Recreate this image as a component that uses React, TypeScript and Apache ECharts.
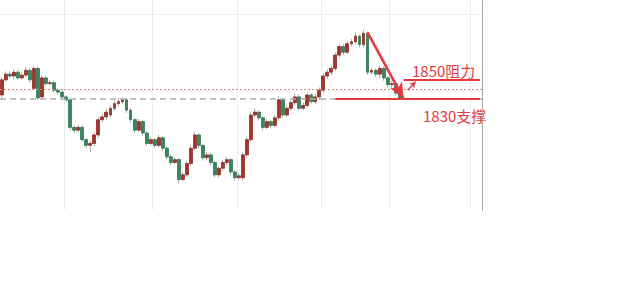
import React, { useEffect, useRef } from "react";
import * as echarts from "echarts";

const openPrices = [
  1834, 1850, 1856, 1854, 1858, 1852, 1855, 1860, 1841, 1862,
  1832, 1852, 1846, 1847, 1839, 1837, 1832, 1829, 1800, 1797,
  1800, 1787, 1781, 1783, 1792, 1808, 1811, 1813, 1820, 1825,
  1827, 1829, 1818, 1808, 1797, 1806, 1794, 1783, 1787, 1781,
  1789, 1778, 1769, 1763, 1766, 1745, 1750, 1762, 1778, 1792,
  1781, 1768, 1771, 1763, 1750, 1757, 1763, 1766, 1753, 1747,
  1747, 1771, 1787, 1813, 1816, 1810, 1800, 1806, 1802, 1810,
  1829, 1813, 1820, 1826, 1832, 1820, 1823, 1834, 1827, 1832,
  1839, 1854, 1858, 1862, 1876, 1885, 1879, 1888, 1890, 1896,
  1887, 1899, 1858, 1860, 1856, 1862, 1852, 1845, 1846, 1836,
];
const closePrices = [
  1850, 1856, 1854, 1858, 1852, 1855, 1860, 1850, 1862, 1831,
  1852, 1846, 1847, 1839, 1837, 1832, 1829, 1800, 1797, 1800,
  1787, 1781, 1783, 1792, 1808, 1811, 1816, 1820, 1825, 1827,
  1829, 1818, 1808, 1797, 1806, 1794, 1783, 1787, 1781, 1789,
  1778, 1769, 1763, 1766, 1745, 1750, 1762, 1778, 1792, 1781,
  1768, 1771, 1763, 1750, 1757, 1763, 1766, 1753, 1747, 1749,
  1771, 1787, 1813, 1816, 1810, 1800, 1806, 1802, 1810, 1829,
  1813, 1820, 1826, 1832, 1820, 1823, 1834, 1827, 1832, 1839,
  1854, 1858, 1862, 1876, 1885, 1879, 1888, 1890, 1896, 1887,
  1899, 1858, 1860, 1856, 1862, 1852, 1845, 1846, 1836, 1831,
];
const lowPrices = [
  1831, 1848, 1852, 1851, 1850, 1850, 1853, 1847, 1839, 1829,
  1830, 1843, 1844, 1837, 1834, 1830, 1827, 1797, 1794, 1795,
  1785, 1778, 1774, 1780, 1789, 1805, 1808, 1811, 1817, 1822,
  1825, 1815, 1805, 1794, 1795, 1791, 1780, 1781, 1778, 1779,
  1775, 1766, 1760, 1761, 1741, 1743, 1748, 1759, 1775, 1778,
  1765, 1765, 1760, 1747, 1747, 1754, 1760, 1750, 1744, 1745,
  1744, 1768, 1784, 1810, 1807, 1797, 1798, 1799, 1800, 1807,
  1810, 1811, 1817, 1823, 1818, 1818, 1820, 1825, 1824, 1829,
  1836, 1851, 1855, 1859, 1873, 1876, 1877, 1885, 1887, 1884,
  1884, 1855, 1856, 1853, 1851, 1849, 1842, 1842, 1833, 1829,
];
const highPrices = [
  1853, 1859, 1859, 1861, 1860, 1858, 1863, 1862, 1865, 1864,
  1855, 1854, 1850, 1849, 1841, 1840, 1834, 1831, 1802, 1803,
  1802, 1789, 1786, 1795, 1811, 1814, 1819, 1823, 1828, 1831,
  1832, 1831, 1820, 1810, 1809, 1808, 1796, 1790, 1789, 1792,
  1791, 1780, 1771, 1769, 1768, 1753, 1765, 1781, 1795, 1794,
  1783, 1774, 1773, 1765, 1759, 1766, 1769, 1768, 1755, 1752,
  1774, 1790, 1816, 1820, 1818, 1812, 1809, 1808, 1813, 1833,
  1831, 1823, 1829, 1836, 1835, 1826, 1837, 1836, 1835, 1842,
  1857, 1861, 1865, 1879, 1888, 1888, 1891, 1893, 1900, 1898,
  1903, 1901, 1863, 1862, 1865, 1864, 1854, 1849, 1848, 1838,
];

const slotCount = 120;
const categories = Array.from({ length: slotCount }, (_, i) => String(i));
const gridBreaks = [16, 38, 59, 80, 97, 117];

const supportLevel = 1830;
const resistanceLevel = 1850;
const middleLevel = 1840;
const topGridLevel = 1919;

const RED = "#e23a3f";

export default function App() {
  const ref = useRef<HTMLDivElement>(null);
  useEffect(() => {
    if (!ref.current) return;
    const chart = echarts.init(ref.current, undefined, { renderer: "svg" });
    const wickData = openPrices.map((o, i) => [o, closePrices[i], lowPrices[i], highPrices[i]]);
    const bodyData = openPrices.map((o, i) => [
      o,
      closePrices[i],
      Math.min(o, closePrices[i]),
      Math.max(o, closePrices[i]),
    ]);
    chart.setOption({
      animation: false,
      grid: { left: 0, right: 158, top: 0, height: 210 },
      xAxis: {
        type: "category",
        data: categories,
        boundaryGap: true,
        axisLine: { show: false },
        axisTick: { show: false },
        axisLabel: { show: false },
        splitLine: {
          show: true,
          interval: (index: number) => gridBreaks.includes(index),
          lineStyle: { color: "#e9eff1", width: 1 },
        },
      },
      yAxis: {
        type: "value",
        min: 1713,
        max: 1934,
        position: "right",
        axisLine: { show: true, lineStyle: { color: "#a8a8a8", width: 1 } },
        axisTick: { show: false },
        axisLabel: { show: false },
        splitLine: { show: false },
      },
      series: [
        {
          type: "candlestick",
          data: wickData,
          barWidth: 1,
          itemStyle: {
            color: "#b5b5b5",
            color0: "#b5b5b5",
            borderColor: "#b5b5b5",
            borderColor0: "#b5b5b5",
            borderWidth: 1,
          },
          markLine: {
            silent: true,
            symbol: ["none", "none"],
            label: { show: false },
            data: [
              { yAxis: topGridLevel, lineStyle: { color: "#e9eff1", width: 1, type: "solid" } },
              { yAxis: middleLevel, lineStyle: { color: "#e58383", width: 1, type: [2, 2] } },
              { yAxis: supportLevel, lineStyle: { color: "#b0b0b0", width: 1.5, type: [6, 4] } },
            ],
          },
        },
        {
          type: "candlestick",
          data: bodyData,
          barWidth: 3.4,
          itemStyle: {
            color: "#a3372c",
            color0: "#3a8661",
            borderColor: "#8a2c23",
            borderColor0: "#2f7352",
            borderWidth: 0.8,
          },
          markLine: {
            silent: true,
            label: { show: false },
            data: [
              [
                { coord: [83.4, supportLevel], symbol: "none" },
                { coord: [119.4, supportLevel], symbol: "none" },
              ],
              [
                { coord: [99.8, resistanceLevel], symbol: "none" },
                { coord: [118.5, resistanceLevel], symbol: "none" },
              ],
              [
                { coord: [90.9, 1900], symbol: "none", lineStyle: { width: 2.6 } },
                { coord: [100.2, 1830], symbol: "arrow", symbolSize: [10, 16], lineStyle: { width: 2.6 } },
              ],
              [
                { coord: [101.1, 1839], symbol: "none", lineStyle: { width: 1.3 } },
                { coord: [102.8, 1848], symbol: "arrow", symbolSize: [5, 6], lineStyle: { width: 1.3 } },
              ],
            ],
            lineStyle: { color: RED, width: 2, type: "solid" },
          },
        },
      ],
      graphic: [
        {
          type: "text",
          left: 412,
          top: 63,
          style: {
            text: "1850阻力",
            fill: RED,
            font: '15px "Noto Sans CJK SC", "Noto Sans", sans-serif',
          },
        },
        {
          type: "text",
          left: 423,
          top: 108,
          style: {
            text: "1830支撑",
            fill: RED,
            font: '15px "Noto Sans CJK SC", "Noto Sans", sans-serif',
          },
        },
      ],
    });
    return () => chart.dispose();
  }, []);
  return <div ref={ref} style={{ width: 640, height: 305, position: "absolute", left: 0, top: 0 }} />;
}
